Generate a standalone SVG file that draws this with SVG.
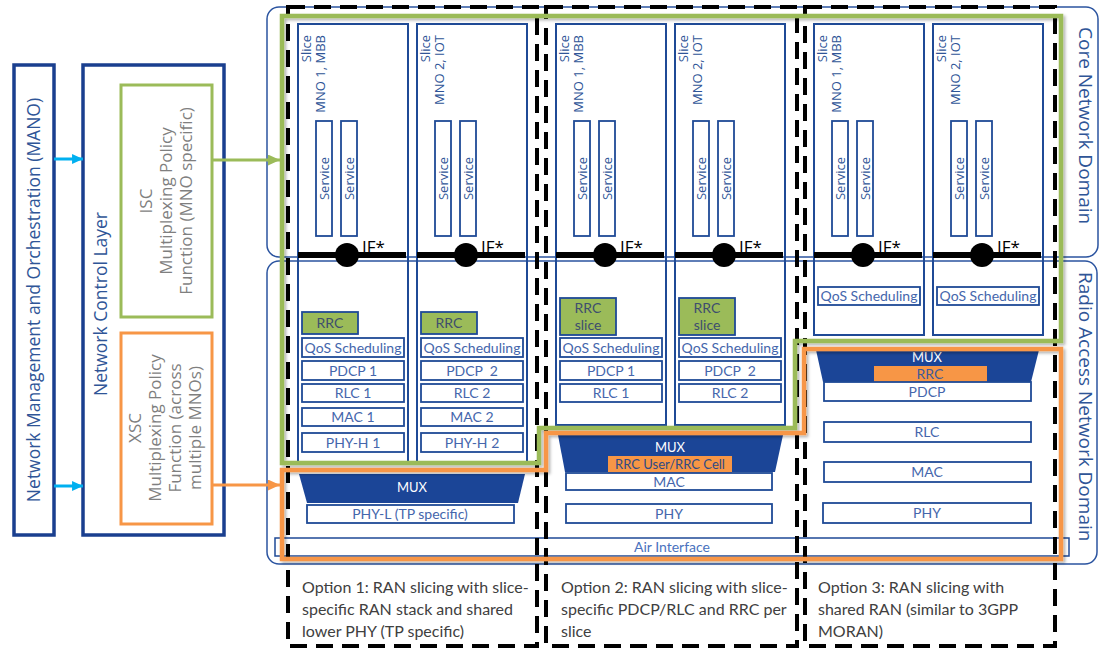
<svg xmlns="http://www.w3.org/2000/svg" width="1099" height="650" viewBox="0 0 1099 650">
<defs>
<style>
.bx{fill:#fff;stroke:#1F4A96;stroke-width:1.8}
.lb{font-family:Lato,"Open Sans",sans-serif;font-size:14px;fill:#4566AC;text-anchor:middle}
.sl{fill:none;stroke:#1F4A96;stroke-width:2}
.sv{fill:#fff;stroke:#1F4A96;stroke-width:1.8}
.svt{font-family:"Open Sans",sans-serif;font-size:13px;fill:#2F5597;text-anchor:middle}
.slt{font-family:"Open Sans",sans-serif;font-size:13px;fill:#2F5597;text-anchor:end}
.if{stroke:#000;stroke-width:6}
.ift{font-family:"Open Sans",sans-serif;font-size:17px;fill:#000}
.rrcg{fill:#9BBB59;stroke:#1F4A96;stroke-width:1.8}
.rrct{font-family:Lato,sans-serif;font-size:14px;fill:#3E4E6E;text-anchor:middle}
.mux{fill:#1B4597}
.muxt{font-family:Lato,sans-serif;font-size:13px;fill:#fff;text-anchor:middle}
.rrco{fill:#F79646}
.dash{fill:none;stroke:#000;stroke-width:4;stroke-dasharray:17 9}
.dom{fill:none;stroke:#2B54A0;stroke-width:1.5}
.domt{font-family:"Open Sans",sans-serif;font-size:19px;fill:#2F5597}
.opt{font-family:Lato,sans-serif;font-size:16px;fill:#404040}
.gt{font-family:"Open Sans",sans-serif;font-size:17px;fill:#7F7F7F;text-anchor:middle}
.bt{font-family:"Open Sans",sans-serif;font-size:17.5px;fill:#2F5597;text-anchor:middle}
</style>
<marker id="ac" viewBox="0 0 12 11" markerUnits="userSpaceOnUse" markerWidth="11" markerHeight="10" refX="12" refY="5.5" orient="auto"><path d="M0,0 L12,5.5 L0,11 z" fill="#00B0F0"/></marker>
<marker id="ag" viewBox="0 0 12 11" markerUnits="userSpaceOnUse" markerWidth="12" markerHeight="11" refX="12" refY="5.5" orient="auto"><path d="M0,0 L12,5.5 L0,11 z" fill="#9BBB59"/></marker>
<marker id="ao" viewBox="0 0 12 11" markerUnits="userSpaceOnUse" markerWidth="12" markerHeight="11" refX="12" refY="5.5" orient="auto"><path d="M0,0 L12,5.5 L0,11 z" fill="#F79646"/></marker>
<filter id="sh" x="-5%" y="-5%" width="110%" height="110%"><feDropShadow dx="2" dy="2" stdDeviation="1.5" flood-color="#000" flood-opacity="0.3"/></filter>
</defs>
<rect width="1099" height="650" fill="#fff"/>

<g id="mano">
<rect x="14" y="65" width="40" height="470" fill="#fff" stroke="#1A3F8F" stroke-width="3.5"/>
<text class="bt" transform="translate(40,300) rotate(-90)">Network Management and Orchestration (MANO)</text>
</g>
<g id="ncl">
<rect x="83" y="65" width="141" height="470" fill="#fff" stroke="#1A3F8F" stroke-width="3.5"/>
<text class="bt" transform="translate(107,304) rotate(-90)">Network Control Layer</text>
</g>
<g id="isc">
<rect x="121" y="85" width="91" height="232" fill="#fff" stroke="#9BBB59" stroke-width="3"/>
<text class="gt" transform="translate(152,201) rotate(-90)">ISC</text>
<text class="gt" transform="translate(172,201) rotate(-90)">Multiplexing Policy</text>
<text class="gt" transform="translate(192,201) rotate(-90)">Function (MNO specific)</text>
</g>
<g id="xsc">
<rect x="121" y="333" width="91" height="191" fill="#fff" stroke="#F79646" stroke-width="3"/>
<text class="gt" transform="translate(141,428) rotate(-90)">XSC</text>
<text class="gt" transform="translate(161,428) rotate(-90)">Multiplexing Policy</text>
<text class="gt" transform="translate(181,428) rotate(-90)">Function (across</text>
<text class="gt" transform="translate(201,428) rotate(-90)">multiple MNOs)</text>
</g>

<g id="domains">
<rect class="dom" x="267" y="7" width="831" height="250" rx="12"/>
<rect class="dom" x="267" y="261" width="830" height="303" rx="12"/>
<text class="domt" transform="translate(1079,27) rotate(90)">Core Network Domain</text>
<text class="domt" transform="translate(1079,272) rotate(90)">Radio Access Network Domain</text>
</g>

<g id="air-interface">
<rect x="275" y="538" width="794" height="18" fill="#fff" stroke="#1F4A96" stroke-width="1.5"/>
<text x="672" y="552" font-family="Lato,sans-serif" font-size="14" fill="#4A72BE" text-anchor="middle">Air Interface</text>
</g>

<g id="options">
<rect class="dash" x="288" y="7" width="249" height="639"/>
<rect class="dash" x="546" y="7" width="251" height="639"/>
<rect class="dash" x="805" y="7" width="250" height="639"/>
<text class="opt" x="302" y="593">Option 1: RAN slicing with slice-</text>
<text class="opt" x="302" y="615">specific RAN stack and shared</text>
<text class="opt" x="302" y="637">lower PHY (TP specific)</text>
<text class="opt" x="561" y="593">Option 2: RAN slicing with slice-</text>
<text class="opt" x="561" y="615">specific PDCP/RLC and RRC per</text>
<text class="opt" x="561" y="637">slice</text>
<text class="opt" x="818" y="593">Option 3: RAN slicing with</text>
<text class="opt" x="818" y="615">shared RAN (similar to 3GPP</text>
<text class="opt" x="818" y="637">MORAN)</text>
</g>

<!-- Option 1 slices -->
<g id="slice-1a">
<rect class="sl" x="298" y="24" width="110" height="438"/>
<text class="slt" transform="translate(311,35) rotate(-90)">Slice</text>
<text class="slt" transform="translate(325,35) rotate(-90)">MNO 1, MBB</text>
<rect class="sv" x="316" y="121" width="16" height="115"/><text class="svt" transform="translate(328.5,178.5) rotate(-90)">Service</text>
<rect class="sv" x="341" y="121" width="16" height="115"/><text class="svt" transform="translate(353.5,178.5) rotate(-90)">Service</text>
<line class="if" x1="298" y1="255" x2="406" y2="255"/><circle cx="347" cy="255" r="12"/><text class="ift" x="362" y="253">IF*</text>
<rect class="rrcg" x="302" y="312" width="56" height="22"/><text class="rrct" x="330" y="328">RRC</text>
<rect class="bx" x="302" y="338" width="102" height="19"/><text class="lb" x="353" y="352.5">QoS Scheduling</text>
<rect class="bx" x="302" y="361" width="102" height="19"/><text class="lb" x="353" y="375.5">PDCP 1</text>
<rect class="bx" x="302" y="384" width="102" height="18"/><text class="lb" x="353" y="398">RLC 1</text>
<rect class="bx" x="302" y="408" width="102" height="18"/><text class="lb" x="353" y="422">MAC 1</text>
<rect class="bx" x="302" y="433" width="102" height="19"/><text class="lb" x="353" y="447.5">PHY-H 1</text>
</g>
<g id="slice-1b">
<rect class="sl" x="417" y="24" width="110" height="438"/>
<text class="slt" transform="translate(430,35) rotate(-90)">Slice</text>
<text class="slt" transform="translate(444,35) rotate(-90)">MNO 2, IOT</text>
<rect class="sv" x="435" y="121" width="16" height="115"/><text class="svt" transform="translate(447.5,178.5) rotate(-90)">Service</text>
<rect class="sv" x="460" y="121" width="16" height="115"/><text class="svt" transform="translate(472.5,178.5) rotate(-90)">Service</text>
<line class="if" x1="417" y1="255" x2="525" y2="255"/><circle cx="466" cy="255" r="12"/><text class="ift" x="481" y="253">IF*</text>
<rect class="rrcg" x="421" y="312" width="56" height="22"/><text class="rrct" x="449" y="328">RRC</text>
<rect class="bx" x="421" y="338" width="102" height="19"/><text class="lb" x="472" y="352.5">QoS Scheduling</text>
<rect class="bx" x="421" y="361" width="102" height="19"/><text class="lb" x="472" y="375.5" xml:space="preserve">PDCP  2</text>
<rect class="bx" x="421" y="384" width="102" height="18"/><text class="lb" x="472" y="398">RLC 2</text>
<rect class="bx" x="421" y="408" width="102" height="18"/><text class="lb" x="472" y="422">MAC 2</text>
<rect class="bx" x="421" y="433" width="102" height="19"/><text class="lb" x="472" y="447.5">PHY-H 2</text>
</g>

<!-- Option 2 slices -->
<g id="slice-2a">
<rect class="sl" x="556" y="24" width="110" height="401"/>
<text class="slt" transform="translate(569,35) rotate(-90)">Slice</text>
<text class="slt" transform="translate(583,35) rotate(-90)">MNO 1, MBB</text>
<rect class="sv" x="574" y="121" width="16" height="115"/><text class="svt" transform="translate(586.5,178.5) rotate(-90)">Service</text>
<rect class="sv" x="599" y="121" width="16" height="115"/><text class="svt" transform="translate(611.5,178.5) rotate(-90)">Service</text>
<line class="if" x1="556" y1="255" x2="664" y2="255"/><circle cx="605" cy="255" r="12"/><text class="ift" x="620" y="253">IF*</text>
<rect class="rrcg" x="560" y="298" width="56" height="37"/><text class="rrct" x="588" y="313">RRC</text><text class="rrct" x="588" y="330">slice</text>
<rect class="bx" x="560" y="338" width="102" height="19"/><text class="lb" x="611" y="352.5">QoS Scheduling</text>
<rect class="bx" x="560" y="361" width="102" height="19"/><text class="lb" x="611" y="375.5">PDCP 1</text>
<rect class="bx" x="560" y="384" width="102" height="18"/><text class="lb" x="611" y="398">RLC 1</text>
</g>
<g id="slice-2b">
<rect class="sl" x="675" y="24" width="110" height="401"/>
<text class="slt" transform="translate(688,35) rotate(-90)">Slice</text>
<text class="slt" transform="translate(702,35) rotate(-90)">MNO 2, IOT</text>
<rect class="sv" x="693" y="121" width="16" height="115"/><text class="svt" transform="translate(705.5,178.5) rotate(-90)">Service</text>
<rect class="sv" x="718" y="121" width="16" height="115"/><text class="svt" transform="translate(730.5,178.5) rotate(-90)">Service</text>
<line class="if" x1="675" y1="255" x2="783" y2="255"/><circle cx="724" cy="255" r="12"/><text class="ift" x="739" y="253">IF*</text>
<rect class="rrcg" x="679" y="298" width="56" height="37"/><text class="rrct" x="707" y="313">RRC</text><text class="rrct" x="707" y="330">slice</text>
<rect class="bx" x="679" y="338" width="102" height="19"/><text class="lb" x="730" y="352.5">QoS Scheduling</text>
<rect class="bx" x="679" y="361" width="102" height="19"/><text class="lb" x="730" y="375.5" xml:space="preserve">PDCP  2</text>
<rect class="bx" x="679" y="384" width="102" height="18"/><text class="lb" x="730" y="398">RLC 2</text>
</g>

<!-- Option 3 slices -->
<g id="slice-3a">
<rect class="sl" x="814" y="24" width="110" height="311"/>
<text class="slt" transform="translate(827,35) rotate(-90)">Slice</text>
<text class="slt" transform="translate(841,35) rotate(-90)">MNO 1, MBB</text>
<rect class="sv" x="832" y="121" width="16" height="115"/><text class="svt" transform="translate(844.5,178.5) rotate(-90)">Service</text>
<rect class="sv" x="857" y="121" width="16" height="115"/><text class="svt" transform="translate(869.5,178.5) rotate(-90)">Service</text>
<line class="if" x1="814" y1="255" x2="922" y2="255"/><circle cx="863" cy="255" r="12"/><text class="ift" x="878" y="253">IF*</text>
<rect class="bx" x="818" y="287" width="102" height="18"/><text class="lb" x="869" y="301">QoS Scheduling</text>
</g>
<g id="slice-3b">
<rect class="sl" x="933" y="24" width="110" height="311"/>
<text class="slt" transform="translate(946,35) rotate(-90)">Slice</text>
<text class="slt" transform="translate(960,35) rotate(-90)">MNO 2, IOT</text>
<rect class="sv" x="951" y="121" width="16" height="115"/><text class="svt" transform="translate(963.5,178.5) rotate(-90)">Service</text>
<rect class="sv" x="976" y="121" width="16" height="115"/><text class="svt" transform="translate(988.5,178.5) rotate(-90)">Service</text>
<line class="if" x1="933" y1="255" x2="1041" y2="255"/><circle cx="982" cy="255" r="12"/><text class="ift" x="997" y="253">IF*</text>
<rect class="bx" x="937" y="287" width="102" height="18"/><text class="lb" x="988" y="301">QoS Scheduling</text>
</g>

<!-- shared parts -->
<g id="shared-1">
<polygon class="mux" points="299,474 525,474 518,503 307,503"/>
<text class="muxt" x="412" y="492">MUX</text>
<rect class="bx" x="307" y="505" width="207" height="18"/><text class="lb" x="410" y="519">PHY-L (TP specific)</text>
</g>
<g id="shared-2">
<polygon class="mux" points="558,435 783,435 775,472 565,472"/>
<text class="muxt" x="670" y="452">MUX</text>
<rect class="rrco" x="608" y="456" width="124" height="17"/>
<text x="670" y="469" font-family="Lato,sans-serif" font-size="13" fill="#2F4A85" text-anchor="middle">RRC User/RRC Cell</text>
<rect class="bx" x="566" y="473" width="206" height="17"/><text class="lb" x="669" y="486.5">MAC</text>
<rect class="bx" x="566" y="504" width="206" height="19"/><text class="lb" x="669" y="518.5">PHY</text>
</g>
<g id="shared-3">
<polygon class="mux" points="816,350 1039,350 1031,382 823,382"/>
<text class="muxt" x="927" y="362">MUX</text>
<rect class="rrco" x="874" y="366" width="113" height="16"/>
<text x="930" y="379" font-family="Lato,sans-serif" font-size="14" fill="#3D5A9A" text-anchor="middle">RRC</text>
<rect class="bx" x="824" y="382" width="207" height="19"/><text class="lb" x="927" y="396.5">PDCP</text>
<rect class="bx" x="824" y="422" width="207" height="20"/><text class="lb" x="927" y="437">RLC</text>
<rect class="bx" x="824" y="462" width="207" height="20"/><text class="lb" x="927" y="477">MAC</text>
<rect class="bx" x="823" y="503" width="208" height="20"/><text class="lb" x="927" y="518">PHY</text>
</g>

<g id="scopes">
<path d="M282,16 H1061 V341 H795 V428 H539 V463 H282 Z" fill="none" stroke="#9BBB59" stroke-width="4.5" filter="url(#sh)"/>
<path d="M282,470 H546 V433 H804 V349 H1061 V559 H282 Z" fill="none" stroke="#F79646" stroke-width="4.5" filter="url(#sh)"/>
</g>

<g id="connectors">
<line x1="54" y1="159" x2="83" y2="159" stroke="#00B0F0" stroke-width="3" marker-end="url(#ac)"/>
<line x1="54" y1="486" x2="83" y2="486" stroke="#00B0F0" stroke-width="3" marker-end="url(#ac)"/>
<line x1="213" y1="160" x2="280" y2="160" stroke="#9BBB59" stroke-width="3" marker-end="url(#ag)"/>
<line x1="213" y1="485" x2="280" y2="485" stroke="#F79646" stroke-width="3" marker-end="url(#ao)"/>
</g>
</svg>
